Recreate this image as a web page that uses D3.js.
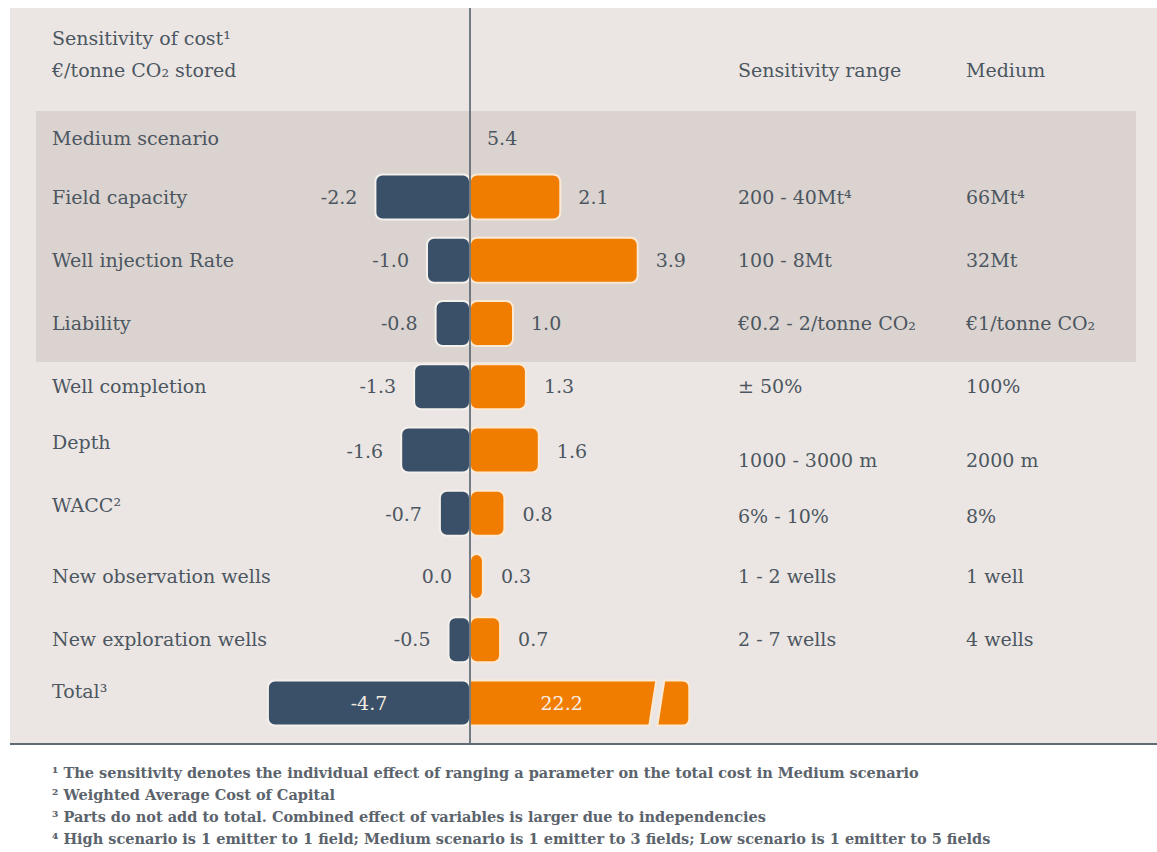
<!DOCTYPE html>
<html>
<head>
<meta charset="utf-8">
<script src="https://cdn.jsdelivr.net/npm/d3@7"></script>
<style>
  body { margin: 0; background: #fff; }
  svg text { font-family: "DejaVu Serif", serif; fill: #4b5661; }
</style>
</head>
<body>
<div id="chart"></div>
<script>
// data
var categories = ["Field capacity", "Well injection Rate", "Liability", "Well completion", "Depth",
                  "WACC²", "New observation wells", "New exploration wells", "Total³"];
var lowValues  = [-2.2, -1.0, -0.8, -1.3, -1.6, -0.7, 0.0, -0.5, -4.7];
var highValues = [2.1, 3.9, 1.0, 1.3, 1.6, 0.8, 0.3, 0.7, 22.2];
var sensitivityRange = ["200 - 40Mt⁴", "100 - 8Mt", "€0.2 - 2/tonne CO₂", "± 50%", "1000 - 3000 m",
                        "6% - 10%", "1 - 2 wells", "2 - 7 wells", ""];
var mediumValues = ["66Mt⁴", "32Mt", "€1/tonne CO₂", "100%", "2000 m", "8%", "1 well", "4 wells", ""];
var mediumScenario = 5.4;
var footnotes = [
  "¹ The sensitivity denotes the individual effect of ranging a parameter on the total cost in Medium scenario",
  "² Weighted Average Cost of Capital",
  "³ Parts do not add to total. Combined effect of variables is larger due to independencies",
  "⁴ High scenario is 1 emitter to 1 field; Medium scenario is 1 emitter to 3 fields; Low scenario is 1 emitter to 5 fields"
];

// layout
var W = 1157, H = 852;
var blue = "#3a5068", orange = "#f07c00";
var fs = 19;
var breakValue = 5.1;  // where the total bar gets cut
// small text nudges seen in the original layout
var labelNudge = {"Depth": -8, "WACC²": -8, "Total³": -12};
var colNudge = {"Depth": 10, "WACC²": 3};

var fmt = d3.formatLocale({decimal: ".", thousands: ",", grouping: [3], currency: ["", ""], minus: "-"}).format(".1f");

var svg = d3.select("#chart").append("svg")
    .attr("width", W).attr("height", H);

// panel
svg.append("rect").attr("x", 10).attr("y", 8).attr("width", 1147).attr("height", 736)
    .attr("fill", "#ebe6e3");
svg.append("rect").attr("x", 36).attr("y", 111).attr("width", 1100).attr("height", 251)
    .attr("fill", "#dbd3cf");

var x = d3.scaleLinear().domain([-1, 1]).range([470 - 43, 470 + 43]);
var y = d3.scalePoint().domain(categories).range([197, 703]);
var barH = 45;

// headers
svg.append("text").attr("x", 52).attr("y", 45).attr("font-size", fs).text("Sensitivity of cost¹");
svg.append("text").attr("x", 52).attr("y", 77).attr("font-size", fs).text("€/tonne CO₂ stored");
svg.append("text").attr("x", 738).attr("y", 77).attr("font-size", fs).text("Sensitivity range");
svg.append("text").attr("x", 966).attr("y", 77).attr("font-size", fs).text("Medium");

svg.append("text").attr("x", 52).attr("y", 145).attr("font-size", fs).text("Medium scenario");
svg.append("text").attr("x", 487).attr("y", 145).attr("font-size", fs).text(fmt(mediumScenario));

var rows = categories.map(function(c, i) {
  return {cat: c, lo: lowValues[i], hi: highValues[i], range: sensitivityRange[i], med: mediumValues[i]};
});

var g = svg.selectAll(".row").data(rows).enter().append("g").attr("class", "row");

// negative bars
g.filter(function(d) { return d.lo < 0; }).append("rect")
    .attr("x", function(d) { return x(d.lo); })
    .attr("y", function(d) { return y(d.cat) - barH / 2; })
    .attr("width", function(d) { return x(0) - x(d.lo); })
    .attr("height", barH)
    .attr("rx", 7)
    .attr("fill", blue)
    .attr("stroke", "#f4f0ec").attr("stroke-width", 2);

// positive bars (not broken)
g.filter(function(d) { return d.hi <= breakValue; }).append("rect")
    .attr("x", x(0))
    .attr("y", function(d) { return y(d.cat) - barH / 2; })
    .attr("width", function(d) { return x(d.hi) - x(0); })
    .attr("height", barH)
    .attr("rx", 7)
    .attr("fill", orange)
    .attr("stroke", "#fbe9d4").attr("stroke-width", 2);

// broken total bar
g.filter(function(d) { return d.hi > breakValue; }).each(function(d) {
  var top = y(d.cat) - barH / 2, bot = top + barH, x0 = x(0), x1 = x(breakValue);
  var cutTop = x1 - 33, cutBot = x1 - 40, gap = 8, r = 7;
  var sel = d3.select(this);
  sel.append("path")
      .attr("d", "M" + x0 + "," + top + "L" + cutTop + "," + top + "L" + cutBot + "," + bot + "L" + x0 + "," + bot + "Z")
      .attr("fill", orange).attr("stroke", "#fbe9d4").attr("stroke-width", 2);
  sel.append("path")
      .attr("d", "M" + (cutTop + gap) + "," + top + "L" + (x1 - r) + "," + top +
                 "Q" + x1 + "," + top + " " + x1 + "," + (top + r) +
                 "L" + x1 + "," + (bot - r) + "Q" + x1 + "," + bot + " " + (x1 - r) + "," + bot +
                 "L" + (cutBot + gap) + "," + bot + "Z")
      .attr("fill", orange).attr("stroke", "#fbe9d4").attr("stroke-width", 2);
});

// category labels
g.append("text")
    .attr("x", 52)
    .attr("y", function(d) { return y(d.cat) + (labelNudge[d.cat] || 0); })
    .attr("dy", "0.35em")
    .attr("font-size", fs)
    .text(function(d) { return d.cat; });

// value labels: outside for normal rows, inside for total
var isTotal = function(d) { return d.hi > breakValue; };
g.append("text")
    .attr("x", function(d) { return isTotal(d) ? (x(d.lo) + x(0)) / 2 : x(d.lo) - 18; })
    .attr("y", function(d) { return y(d.cat) + (isTotal(d) ? 0 : (colNudge[d.cat] ? 1 : 0)); })
    .attr("dy", "0.35em")
    .attr("font-size", fs)
    .attr("text-anchor", function(d) { return isTotal(d) ? "middle" : "end"; })
    .style("fill", function(d) { return isTotal(d) ? "#f3ece2" : null; })
    .text(function(d) { return fmt(d.lo); });

g.append("text")
    .attr("x", function(d) { return isTotal(d) ? (x(0) + x(breakValue) - 36) / 2 : x(d.hi) + 18; })
    .attr("y", function(d) { return y(d.cat) + (isTotal(d) ? 0 : (colNudge[d.cat] ? 1 : 0)); })
    .attr("dy", "0.35em")
    .attr("font-size", fs)
    .attr("text-anchor", function(d) { return isTotal(d) ? "middle" : "start"; })
    .style("fill", function(d) { return isTotal(d) ? "#f7efe4" : null; })
    .text(function(d) { return fmt(d.hi); });

// range and medium columns
g.append("text")
    .attr("x", 738)
    .attr("y", function(d) { return y(d.cat) + (colNudge[d.cat] || 0); })
    .attr("dy", "0.35em").attr("font-size", fs)
    .text(function(d) { return d.range; });
g.append("text")
    .attr("x", 966)
    .attr("y", function(d) { return y(d.cat) + (colNudge[d.cat] || 0); })
    .attr("dy", "0.35em").attr("font-size", fs)
    .text(function(d) { return d.med; });

// zero axis and bottom rule
svg.append("line").attr("x1", x(0)).attr("x2", x(0)).attr("y1", 8).attr("y2", 744)
    .attr("stroke", "#4d5863").attr("stroke-width", 1.5);
svg.append("line").attr("x1", 10).attr("x2", W).attr("y1", 744).attr("y2", 744)
    .attr("stroke", "#5f6b75").attr("stroke-width", 2);

// footnotes
svg.selectAll(".fn").data(footnotes).enter().append("text")
    .attr("class", "fn")
    .attr("x", 52)
    .attr("y", function(d, i) { return 778 + i * 22; })
    .attr("font-size", 14.5)
    .attr("font-weight", "bold")
    .style("fill", "#5b636c")
    .text(function(d) { return d; });
</script>
</body>
</html>
